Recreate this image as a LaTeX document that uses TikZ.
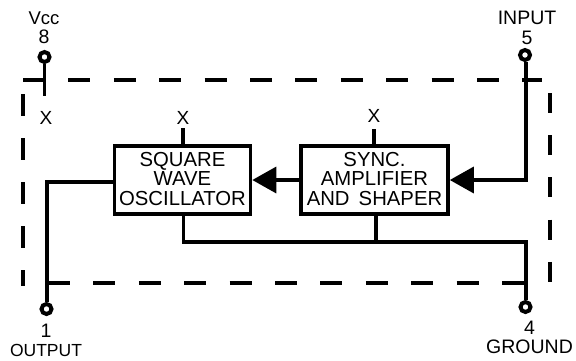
\documentclass[tikz,border=0pt]{standalone}
\usepackage{fontspec}
\setmainfont{Liberation Sans}
\usetikzlibrary{arrows.meta,calc}
\newcommand{\blocktext}[1]{\raisebox{-6.8pt}[0pt][0pt]{\begin{tabular}[c]{@{}c@{}}#1\end{tabular}}}
\tikzset{
  wire/.style={line width=3.4pt,line join=miter,black},
  arrowwire/.style={wire,-{Triangle[length=24pt,width=26pt,sep=0pt]}},
  boundary/.style={line width=3.6pt,black,dash pattern=on 22pt off 23.4pt},
  block/.style={draw=black,line width=3.6pt,fill=white,inner sep=0pt,align=center,font=\fontsize{20.3}{18.4}\selectfont},
  pin/.style={circle,draw=black,fill=white,line width=4pt,minimum size=10pt,inner sep=0pt},
  lab/.style={inner sep=0pt,align=center,font=\fontsize{19.5}{19}\selectfont},
  nc/.style={inner sep=0pt,font=\fontsize{19}{19}\selectfont}
}
\begin{document}
\begin{tikzpicture}[x=1pt,y=-1pt]
\useasboundingbox (0,0) rectangle (576,360);
% boundary
\coordinate (tl) at (23,80);
\coordinate (tr) at (542,80);
\coordinate (lt) at (23,94);
\coordinate (lb) at (23,286);
\coordinate (rt) at (550,93);
\coordinate (rb) at (550,285);
\coordinate (bl) at (48,283);
\coordinate (br) at (526,283);
\draw[boundary] (tl) -- (tr);
\draw[boundary,dash pattern=on 22pt off 22pt] (lt) -- (lb);
\draw[boundary,dash pattern=on 20pt off 22.2pt] (rt) -- (rb);
\draw[boundary] (bl) -- (br);
% blocks
\node[block,minimum width=136pt,minimum height=68pt] (osc) at (182.5,180) {\blocktext{SQUARE\\WAVE\\OSCILLATOR}};
\node[block,minimum width=147pt,minimum height=68pt] (amp) at (374.5,180) {\blocktext{SYNC.\\AMPLIFIER\\AND\hspace{0.45em}SHAPER}};
% pins
\node[pin] (p8) at (44.5,57) {};
\node[pin] (p5) at (525,55) {};
\node[pin] (p1) at (46.5,309) {};
\node[pin] (p4) at (525.5,307) {};
% pin labels
\node[lab] (l8) at (44,28) {\fontsize{18.5}{19}\selectfont Vcc\\[0pt]8};
\node[lab] (l5) at (527,28) {INPUT\\[0.5pt]5};
\node[lab] (l1) at (46,340) {1\\\fontsize{17.5}{19}\selectfont OUTPUT};
\node[lab] (l4) at (529.5,337.5) {4\\GROUND};
% NC marks
\node[nc] (x1) at (46,118) {X};
\node[nc] (x2) at (183,118) {X};
\node[nc] (x3) at (374,116) {X};
\coordinate (s1) at (44.5,96);
\coordinate (s2) at (183,128);
\coordinate (s3) at (374,129);
% wires
\draw[wire] (p8) -- (s1);
\draw[wire] (s2) -- (s2 |- osc.north);
\draw[wire] (s3) -- (s3 |- amp.north);
\coordinate (ia) at (526,180);
\draw[arrowwire] (p5.south -| ia) -- (ia) -- (amp.east |- ia);
\draw[arrowwire] (amp.west) -- (osc.east);
\coordinate (oa) at (47,182);
\draw[wire] (osc.west |- oa) -- (oa) -- (p1.north -| oa);
\coordinate (ba) at (183.5,242);
\coordinate (bb) at (526,242);
\coordinate (bc) at (376,242);
\draw[wire] (ba |- osc.south) -- (ba) -- (bb) -- (p4.north -| bb);
\draw[wire] (bc |- amp.south) -- (bc);
\end{tikzpicture}
\end{document}
